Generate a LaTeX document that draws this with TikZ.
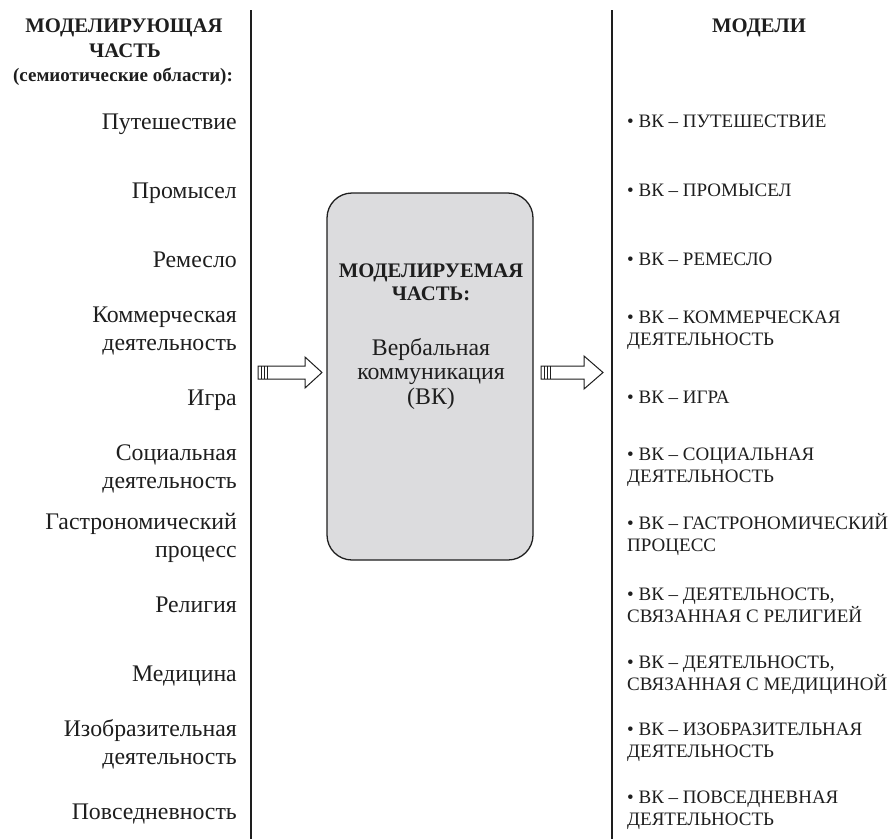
\documentclass[tikz,border=0pt]{standalone}
\usepackage{fontspec}
\setmainfont{Liberation Serif}
\definecolor{boxgray}{HTML}{DCDCDE}
\definecolor{ink}{HTML}{1E1E1E}
\begin{document}
\begin{tikzpicture}[x=1pt,y=-1pt,
  ltext/.style={anchor=base east, inner sep=0pt, text=ink, font=\fontsize{23.8}{28}\selectfont},
  rtext/.style={anchor=base west, inner sep=0pt, text=ink, font=\fontsize{19}{22}\selectfont},
  hdr/.style={anchor=base, inner sep=0pt, text=ink, font=\fontsize{20.7}{25}\selectfont\bfseries},
  ctext/.style={anchor=base, inner sep=0pt, text=ink, font=\fontsize{23.8}{28}\selectfont},
  divider/.style={line width=1.6pt, draw=ink},
  fatarrow/.style={line width=1pt, draw=ink, fill=white, line join=miter},
  stripe/.style={line width=1pt, draw=ink}]
\useasboundingbox (0,0) rectangle (894,839);

% dividers
\coordinate (d1t) at (251,10); \coordinate (d1b) at (251,839);
\coordinate (d2t) at (612,10); \coordinate (d2b) at (612,839);
\draw[divider] (d1t) -- (d1b);
\draw[divider] (d2t) -- (d2b);

% headers
\node[hdr] (h1) at (124,32) {МОДЕЛИРУЮЩАЯ};
\node[hdr] (h2) at (125,57) {ЧАСТЬ};
\node[hdr, font=\fontsize{19}{22}\selectfont\bfseries] (h3) at (123,81) {(семиотические области):};
\node[hdr] (h4) at (759,32) {МОДЕЛИ};

% central box
\node[draw=ink, line width=1.3pt, fill=boxgray, rounded corners=25pt,
      minimum width=206pt, minimum height=367pt, inner sep=0pt] (box) at (430,376.5) {};
\node[hdr] (b1) at (431,277) {МОДЕЛИРУЕМАЯ};
\node[hdr] (b2) at (431,300) {ЧАСТЬ:};
\node[ctext] (b3) at (431,355) {Вербальная};
\node[ctext] (b4) at (431,379) {коммуникация};
\node[ctext] (b5) at (431,404) {(ВК)};

% left list
\node[ltext] (l1) at (237,129) {Путешествие};
\node[ltext] (l2) at (237,198) {Промысел};
\node[ltext] (l3) at (237,267) {Ремесло};
\node[ltext] (l4a) at (237,322) {Коммерческая};
\node[ltext] (l4b) at (237,350) {деятельность};
\node[ltext] (l5) at (237,405) {Игра};
\node[ltext] (l6a) at (237,460) {Социальная};
\node[ltext] (l6b) at (237,488) {деятельность};
\node[ltext] (l7a) at (237,529) {Гастрономический};
\node[ltext] (l7b) at (237,557) {процесс};
\node[ltext] (l8) at (237,612) {Религия};
\node[ltext] (l9) at (237,681) {Медицина};
\node[ltext] (l10a) at (237,736) {Изобразительная};
\node[ltext] (l10b) at (237,764) {деятельность};
\node[ltext] (l11) at (237,819) {Повседневность};

% right list
\node[rtext] (r1) at (627,127) {• ВК – ПУТЕШЕСТВИЕ};
\node[rtext] (r2) at (627,196) {• ВК – ПРОМЫСЕЛ};
\node[rtext] (r3) at (627,265) {• ВК – РЕМЕСЛО};
\node[rtext] (r4a) at (627,323) {• ВК – КОММЕРЧЕСКАЯ};
\node[rtext] (r4b) at (627,345) {ДЕЯТЕЛЬНОСТЬ};
\node[rtext] (r5) at (627,403) {• ВК – ИГРА};
\node[rtext] (r6a) at (627,460) {• ВК – СОЦИАЛЬНАЯ};
\node[rtext] (r6b) at (627,482) {ДЕЯТЕЛЬНОСТЬ};
\node[rtext] (r7a) at (627,529) {• ВК – ГАСТРОНОМИЧЕСКИЙ};
\node[rtext] (r7b) at (627,551) {ПРОЦЕСС};
\node[rtext] (r8a) at (627,600) {• ВК – ДЕЯТЕЛЬНОСТЬ,};
\node[rtext] (r8b) at (627,622) {СВЯЗАННАЯ С РЕЛИГИЕЙ};
\node[rtext] (r9a) at (627,668) {• ВК – ДЕЯТЕЛЬНОСТЬ,};
\node[rtext] (r9b) at (627,690) {СВЯЗАННАЯ С МЕДИЦИНОЙ};
\node[rtext] (r10a) at (627,735) {• ВК – ИЗОБРАЗИТЕЛЬНАЯ};
\node[rtext] (r10b) at (627,757) {ДЕЯТЕЛЬНОСТЬ};
\node[rtext] (r11a) at (627,803) {• ВК – ПОВСЕДНЕВНАЯ};
\node[rtext] (r11b) at (627,825) {ДЕЯТЕЛЬНОСТЬ};

% left block arrow
\draw[fatarrow] (258,366) -- (305,366) -- (305,357) -- (322,372.5) -- (305,388)
  -- (305,379) -- (258,379) -- cycle;
\draw[stripe] (261,366) -- (261,379);
\draw[stripe] (264,366) -- (264,379);
\draw[stripe] (267,366) -- (267,379);

% right block arrow
\draw[fatarrow] (541,366) -- (584,366) -- (584,356) -- (603,372.5) -- (584,389)
  -- (584,379) -- (541,379) -- cycle;
\draw[stripe] (544,366) -- (544,379);
\draw[stripe] (547,366) -- (547,379);
\draw[stripe] (550,366) -- (550,379);
\end{tikzpicture}
\end{document}
